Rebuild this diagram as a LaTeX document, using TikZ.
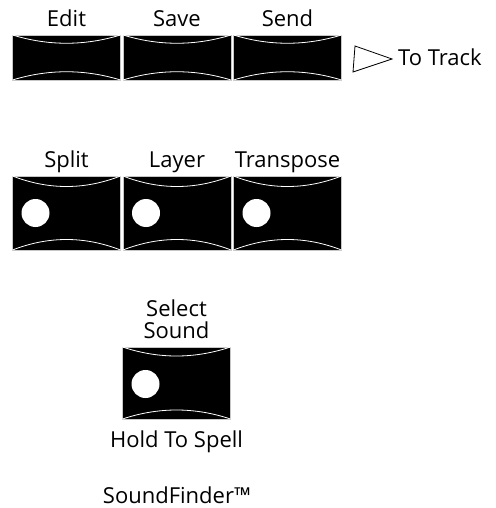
\documentclass[tikz,border=0pt]{standalone}
\usepackage{fontspec}
\setmainfont{Open Sans}
\usetikzlibrary{calc}
\def\keyarcs(#1)(#2){%
  \draw[keyarc] (#1.north west) .. controls +(36,#2) and +(-36,#2) .. (#1.north east);
  \draw[keyarc] (#1.south west) .. controls +(36,-#2) and +(-36,-#2) .. (#1.south east);}

\begin{document}
\begin{tikzpicture}[x=1pt, y=-1pt,
    key/.style={draw=black!22, line width=0.8pt, fill=black, inner sep=0pt, outer sep=0pt, minimum width=108pt},
    keyarc/.style={draw=white, line width=0.8pt},
    lamp/.style={fill=white, draw=none},
    lbl/.style={font=\fontsize{22}{22}\selectfont, inner sep=0pt}]
			%%%%% START %%%%%
			\useasboundingbox (0, 0) rectangle (495, 508);
			
			% top row
			\node[key, minimum height=45pt] (edit) at (66.5, 57.5) {};
			\node[key, minimum height=45pt] (save) at (177, 57.5) {};
			\node[key, minimum height=45pt] (send) at (287.5, 57.5) {};
			\keyarcs(edit)(11)
			\keyarcs(save)(11)
			\keyarcs(send)(11)
			
			\node[lbl, anchor=base] (editlbl) at (66.5, 27) {Edit};
			\node[lbl, anchor=base] (savelbl) at (177, 27) {Save};
			\node[lbl, anchor=base] (sendlbl) at (287.5, 27) {Send};
			
			\coordinate (tri1) at (355, 46);
			\coordinate (tri2) at (353, 72);
			\coordinate (tri3) at (392, 59);
			\draw[line width=0.8pt, line join=miter] (tri1) -- (tri2) -- (tri3) -- cycle;
			\node[lbl, anchor=base west] (tracklbl) at (398, 66) {To Track};
			
			% middle row
			\node[key, minimum height=74pt] (split) at (66.5, 213) {};
			\node[key, minimum height=74pt] (layer) at (177, 213) {};
			\node[key, minimum height=74pt] (transp) at (287.5, 213) {};
			\keyarcs(split)(14)
			\keyarcs(layer)(14)
			\keyarcs(transp)(14)
			\fill[lamp] ($(split.west)+(23, 0)$) circle (14);
			\fill[lamp] ($(layer.west)+(23, 0)$) circle (14);
			\fill[lamp] ($(transp.west)+(23, 0)$) circle (14);
			
			\node[lbl, anchor=base] (splitlbl) at (66.5, 167) {Split};
			\node[lbl, anchor=base] (layerlbl) at (177, 167) {Layer};
			\node[lbl, anchor=base] (transplbl) at (287.5, 167) {Transpose};
			
			% select sound
			\node[key, minimum height=72pt] (select) at (176.5, 383) {};
			\keyarcs(select)(12)
			\fill[lamp] ($(select.west)+(23, 1)$) circle (14);
			
			\node[lbl, anchor=south, align=center, text depth=0pt] (selectlbl) at (176.5, 339) {Select\\Sound};
			\node[lbl, anchor=base] (holdlbl) at (176.5, 447) {Hold To Spell};
			
			\node[lbl, anchor=base] (finderlbl) at (177, 503) {SoundFinder™};
			
			%%%%% END %%%%%
		\end{tikzpicture}
\end{document}
